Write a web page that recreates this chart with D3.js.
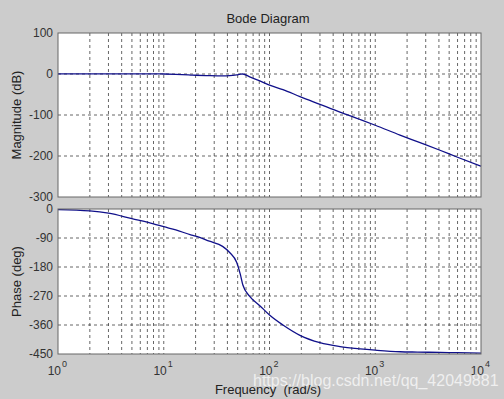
<!DOCTYPE html>
<html lang="en">
<head>
  <meta charset="UTF-8">
  <title>Bode Diagram</title>
  <style>
    body { margin: 0; background-color: #cccccc; }
    svg { display: block; font-family: 'Liberation Sans', Arial, sans-serif; }
    .grid line { stroke: #404040; stroke-width: 0.8; stroke-dasharray: 3,3; }
    .tick-label { font-size: 12px; fill: #333; }
  </style>
  <script src="https://d3js.org/d3.v7.min.js"></script>
</head>
<body>
  <svg></svg>

  <script>
    // values
    const freq = [1, 2, 3, 5, 8, 10, 13, 18, 20, 27, 36, 42, 49, 53, 56, 65, 81, 100, 134, 194,
                  300, 464, 718, 1000, 1714, 2500, 4094, 6000, 10000];
    const magnitude = [0.5, 0.5, 0.5, 0.5, 0.5, 0, -1, -2.5, -3, -4, -4.5, -4, -2, -0.5, 0, -7, -17, -27, -38, -55,
                       -74, -93, -111, -125, -149, -165, -186, -203, -225];
    const phase = [-2, -6, -13, -30, -46, -55, -65, -80, -84, -100, -116, -135, -166, -203, -236, -271, -300, -329, -360, -392,
                   -415, -427, -434, -438, -443, -444, -445, -446, -447];
    const magTicks = [100, 0, -100, -200, -300];
    const phaseTicks = [0, -90, -180, -270, -360, -450];
    const decades = [0, 1, 2, 3, 4];

    const width = 504, height = 399;
    const svg = d3.select("svg").attr("width", width).attr("height", height);

    const x = d3.scaleLog().domain([1, 1e4]).range([58, 481]);
    const yMag = d3.scaleLinear().domain([-300, 100]).range([197, 33]);
    const yPh = d3.scaleLinear().domain([-450, 0]).range([354, 209]);

    // minor + major x grid positions
    const xGrid = x.ticks().filter(v => v > 1 && v < 1e4);

    function drawAxes(y, ticks, values, label) {
      const [y0, y1] = y.range();
      const g = svg.append("g");
      g.append("rect")
        .attr("x", x.range()[0]).attr("y", y1)
        .attr("width", x.range()[1] - x.range()[0]).attr("height", y0 - y1)
        .attr("fill", "white");

      const grid = g.append("g").attr("class", "grid");
      grid.selectAll(".gx").data(xGrid).join("line")
        .attr("x1", d => x(d)).attr("x2", d => x(d))
        .attr("y1", y1).attr("y2", y0);
      grid.selectAll(".gy").data(ticks.slice(1, -1)).join("line")
        .attr("x1", x.range()[0]).attr("x2", x.range()[1])
        .attr("y1", d => y(d)).attr("y2", d => y(d));

      // the curve
      const line = d3.line()
        .x((d, i) => x(freq[i]))
        .y(d => y(d))
        .curve(d3.curveMonotoneX);
      g.append("path")
        .datum(values)
        .attr("d", line)
        .attr("fill", "none")
        .attr("stroke", "#10108a")
        .attr("stroke-width", 1.3);

      // frame
      g.append("rect")
        .attr("x", x.range()[0]).attr("y", y1)
        .attr("width", x.range()[1] - x.range()[0]).attr("height", y0 - y1)
        .attr("fill", "none").attr("stroke", "#666").attr("stroke-width", 1);

      g.selectAll(".yl").data(ticks).join("text")
        .attr("class", "tick-label")
        .attr("x", 53).attr("y", d => y(d) + 4)
        .attr("text-anchor", "end")
        .text(d => d);

      g.append("text")
        .attr("transform", `translate(21,${(y0 + y1) / 2}) rotate(-90)`)
        .attr("text-anchor", "middle")
        .attr("font-size", 13).attr("fill", "#222")
        .text(label);
    }

    drawAxes(yMag, magTicks, magnitude, "Magnitude (dB)");
    drawAxes(yPh, phaseTicks, phase, "Phase (deg)");

    // x tick labels 10^n : base and exponent as separate texts
    const xl = svg.append("g");
    xl.selectAll(".base").data(decades).join("text")
      .attr("class", "tick-label")
      .attr("x", d => x(Math.pow(10, d)) + 3)
      .attr("y", 375)
      .attr("text-anchor", "end")
      .text("10");
    xl.selectAll(".exp").data(decades).join("text")
      .attr("class", "tick-label")
      .attr("x", d => x(Math.pow(10, d)) + 4)
      .attr("y", 367)
      .attr("font-size", 9)
      .style("font-size", "9px")
      .text(d => d);

    svg.append("text")
      .attr("x", 268).attr("y", 23)
      .attr("text-anchor", "middle")
      .attr("font-size", 13).attr("fill", "#222")
      .text("Bode Diagram");

    svg.append("text")
      .attr("x", 268).attr("y", 394)
      .attr("text-anchor", "middle")
      .attr("font-size", 13).attr("fill", "#222")
      .attr("xml:space", "preserve")
      .text("Frequency  (rad/s)");

    // watermark
    svg.append("text")
      .attr("x", 253).attr("y", 386)
      .attr("font-size", 16)
      .attr("fill", "rgba(255,255,255,0.7)")
      .text("https://blog.csdn.net/qq_42049881");
  </script>
</body>
</html>
